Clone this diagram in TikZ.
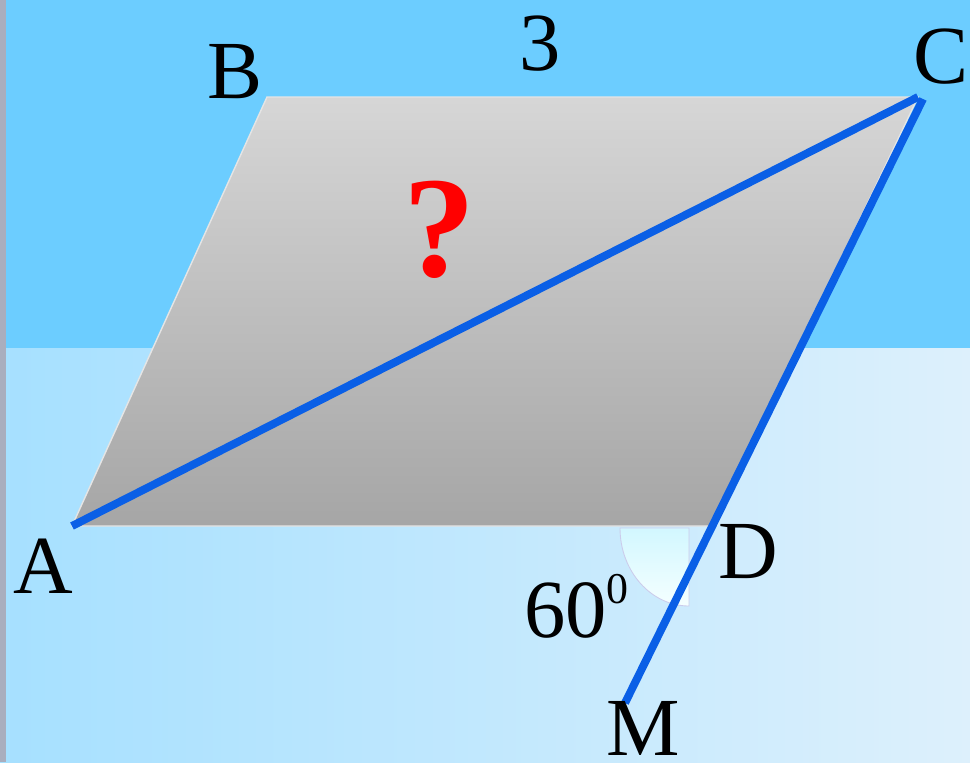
\documentclass[tikz,border=0pt]{standalone}
\usepackage{fontspec}
\setmainfont{Liberation Serif}
\definecolor{skytop}{HTML}{6CCDFF}
\definecolor{skyleft}{HTML}{A6E0FF}
\definecolor{skyright}{HTML}{DDF0FC}
\definecolor{linebl}{HTML}{0A5FE6}
\definecolor{wedgebl}{HTML}{D2F7FF}
\definecolor{edgegray}{HTML}{A9AEBE}
\tikzset{
  lbl/.style={font=\fontsize{47}{50}\selectfont,anchor=base,inner sep=0pt},
  blueline/.style={line width=4.5pt,linebl}
}
\begin{document}
\begin{tikzpicture}[x=0.02cm,y=-0.02cm]
\useasboundingbox (0,0) rectangle (970,762);
% background
\fill[skytop] (0,0) rectangle (970,348);
\shade[left color=skyleft,right color=skyright] (0,348) rectangle (970,762);
\fill[edgegray] (0,0) rectangle (6,762);
% parallelogram
\coordinate (A) at (72,526);
\coordinate (B) at (267,97);
\coordinate (C) at (918,97);
\coordinate (D) at (714,526);
\coordinate (C2) at (923,99);
\coordinate (M) at (625,703);
\shade[top color=black!16,bottom color=black!35,draw=black!10,line width=0.8pt] (A)--(B)--(C)--(D)--cycle;
% angle mark at D
\shade[top color=wedgebl,bottom color=cyan!4,draw=cyan!25!blue!20,line width=0.5pt] (689,528) -- (620,528) arc[start angle=180,end angle=90,x radius=69,y radius=78] -- cycle;
% diagonal and side line
\draw[blueline] (A) -- (C);
\draw[blueline] (C2) -- (M);
% labels
\node[lbl] (lA) at (43,593) {A};
\node[lbl] (lB) at (235,98) {B};
\node[lbl] (lC) at (941,83) {C};
\node[lbl] (lD) at (748,578) {D};
\node[lbl] (lM) at (643,755) {M};
\node[lbl] (l3) at (540,70) {3};
\node[lbl,anchor=base west] (lang) at (524,637) {60\raisebox{19pt}{\fontsize{25}{27}\selectfont 0}};
\node[lbl,font=\fontsize{82}{84}\selectfont\bfseries,text=red] (lq) at (440,276) {?};
\end{tikzpicture}
\end{document}
